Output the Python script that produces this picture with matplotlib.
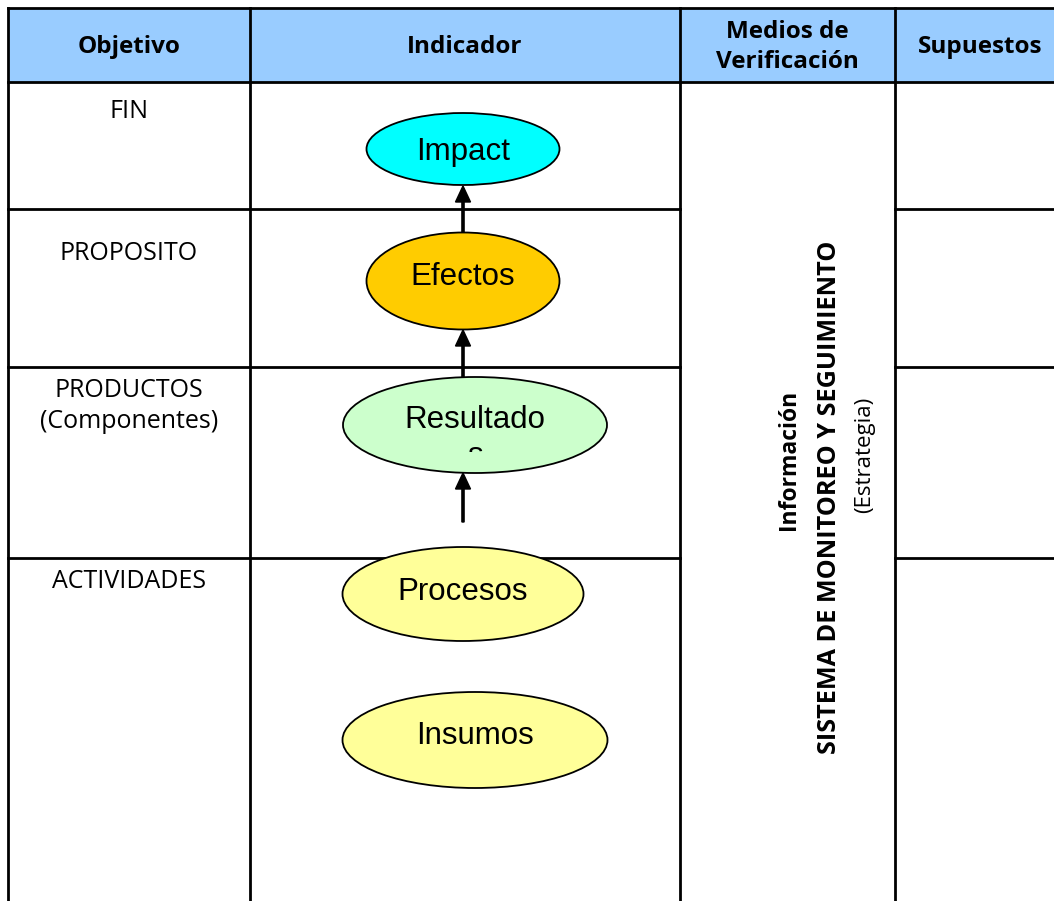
import matplotlib
matplotlib.use("Agg")
import matplotlib.pyplot as plt
from matplotlib.patches import Ellipse, Rectangle, FancyArrow
from matplotlib.transforms import Bbox, TransformedBbox

# ---- content ----
headers = ["Objetivo", "Indicador", "Medios de\nVerificación", "Supuestos"]
row_labels = ["FIN", "PROPOSITO", "PRODUCTOS\n(Componentes)", "ACTIVIDADES"]
ellipse_labels = ["Impact", "Efectos", "Resultado", "Procesos", "Insumos"]
ellipse_colors = ["#00FFFF", "#FFCC00", "#CCFFCC", "#FFFF99", "#FFFF99"]
vertical_lines = ["Información", "SISTEMA DE MONITOREO Y SEGUIMIENTO", "(Estrategia)"]

# ---- layout (pixel coordinates) ----
W, H = 1054, 901
col_x = [8, 250, 680, 895, 1070]
header_top, header_bot = 8, 82
row_y = [82, 209, 367, 558]
label_y = [111, 254, 406, 581]
ell_geom = [(463, 149, 193, 72), (463, 281, 193, 97), (475, 425, 264, 96),
            (463, 594, 241, 94), (475, 740, 265, 96)]
ell_text_base = [160, 285, 428, 600, 744]
arrows = [(463, 233, 186), (463, 377, 330), (463, 522, 473)]
vert_pos = [(789, 460, "bold", 16.5), (829, 497, "bold", 18.2), (865, 455, "normal", 16)]

fig = plt.figure(figsize=(W / 100, H / 100), dpi=100)
ax = fig.add_axes([0, 0, 1, 1])
ax.set_xlim(0, W)
ax.set_ylim(H, 0)
ax.axis("off")

LW = 2.0
body_font = "Open Sans"
arial = "Liberation Sans"

# header fill
ax.add_patch(Rectangle((col_x[0], header_top), col_x[-1] - col_x[0], header_bot - header_top,
                       facecolor="#99CCFF", edgecolor="none", zorder=0))
ax.plot([col_x[0], col_x[-1]], [header_top, header_top], color="black", lw=LW, zorder=2)
ax.plot([col_x[0], col_x[-1]], [header_bot, header_bot], color="black", lw=LW, zorder=2)
for x in col_x[:-1]:
    ax.plot([x, x], [header_top, H + 5], color="black", lw=LW, zorder=2)
for y in row_y[1:]:
    ax.plot([col_x[0], col_x[2]], [y, y], color="black", lw=LW, zorder=2)
    ax.plot([col_x[3], col_x[-1]], [y, y], color="black", lw=LW, zorder=2)

# headers
head_cx = [129, 465, 787, 980]
for cx, t in zip(head_cx, headers):
    ax.text(cx, 47, t, ha="center", va="center", fontsize=17.5, fontweight="bold",
            family=body_font, color="black", linespacing=1.35)

# row labels
for y, t in zip(label_y, row_labels):
    ax.text(129, y, t, ha="center", va="center", fontsize=18, family=body_font,
            color="black", linespacing=1.35)

# arrows
for x, y0, y1 in arrows:
    ax.add_patch(FancyArrow(x, y0, 0, y1 - y0, width=2.2, head_width=15, head_length=16,
                            length_includes_head=True, color="black", zorder=3))

# ellipses
for (cx, cy, w, h), ty, lab, col in zip(ell_geom, ell_text_base, ellipse_labels, ellipse_colors):
    ax.add_patch(Ellipse((cx, cy), w, h, facecolor=col, edgecolor="black", lw=1.3, zorder=4))
    ax.text(cx, ty, lab, ha="center", va="baseline", fontsize=22.5, family=arial,
            color="black", zorder=5)

# clipped second line of "Resultado"
s = ax.text(475, 464, "s", ha="center", va="baseline", fontsize=22.5, family=arial,
            color="black", zorder=5)
s.set_clip_path(None)
s.set_clip_box(TransformedBbox(Bbox([[400, 430], [550, 452]]), ax.transData))
s.set_clip_on(True)

# vertical text in merged column
for (x, y, wt, fs), t in zip(vert_pos, vertical_lines):
    ax.text(x, y, t, rotation=90, ha="center", va="center", fontsize=fs,
            fontweight=wt, family=body_font, color="black")

fig.savefig("out.png", dpi=100)
